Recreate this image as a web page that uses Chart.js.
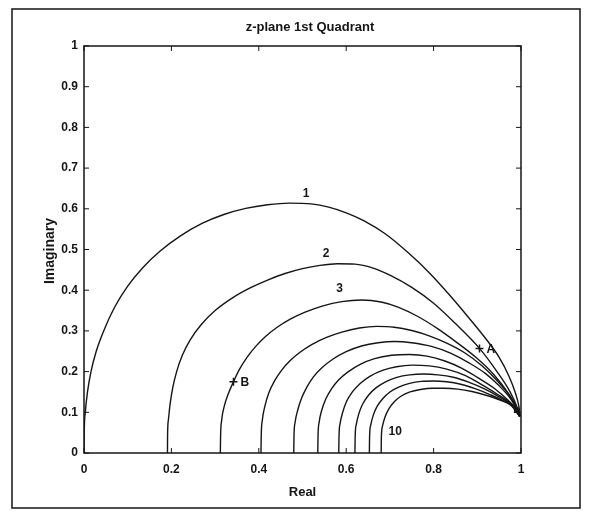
<!DOCTYPE html>
<html lang="en">
<head>
    <meta charset="UTF-8">
    <title>z-plane 1st Quadrant</title>
    <script src="https://cdn.jsdelivr.net/npm/chart.js"></script>
    <style>
        body { margin: 0; background: #fff; }
        #wrap { width: 593px; height: 514px; }
    </style>
</head>
<body>
    <div id="wrap"><canvas id="zChart" width="593" height="514"></canvas></div>

    <script>
        // contour points [real, imaginary], outermost (1) to innermost (10)
        const c1 = [[0,0],[0.0005,0.05],[0.003,0.1],[0.008,0.15],[0.016,0.2],[0.028,0.25],[0.045,0.3],[0.07,0.358],[0.1,0.41],[0.135,0.456],[0.175,0.497],[0.22,0.533],[0.27,0.564],[0.32,0.586],[0.37,0.601],[0.42,0.61],[0.47,0.614],[0.52,0.612],[0.56,0.604],[0.6,0.59],[0.64,0.571],[0.69,0.538],[0.744,0.49],[0.79,0.443],[0.835,0.39],[0.88,0.333],[0.92,0.28],[0.95,0.235],[0.972,0.19],[0.987,0.148],[0.995,0.115],[0.998,0.09]];
        const c2 = [[0.191,0],[0.1912,0.04],[0.193,0.08],[0.197,0.12],[0.203,0.16],[0.212,0.2],[0.225,0.24],[0.243,0.278],[0.268,0.315],[0.3,0.35],[0.338,0.38],[0.379,0.405],[0.42,0.425],[0.46,0.441],[0.5,0.453],[0.54,0.461],[0.58,0.465],[0.62,0.464],[0.66,0.455],[0.7,0.437],[0.75,0.407],[0.8,0.368],[0.85,0.318],[0.905,0.257],[0.945,0.2],[0.975,0.15],[0.992,0.11],[0.998,0.09]];
        const c3 = [[0.312,0],[0.3125,0.04],[0.315,0.08],[0.321,0.115],[0.33,0.145],[0.342,0.175],[0.356,0.206],[0.373,0.235],[0.393,0.262],[0.416,0.287],[0.442,0.309],[0.472,0.329],[0.506,0.346],[0.545,0.361],[0.59,0.372],[0.635,0.376],[0.68,0.371],[0.72,0.358],[0.763,0.336],[0.81,0.305],[0.855,0.27],[0.9,0.232],[0.94,0.19],[0.972,0.145],[0.99,0.112],[0.997,0.09]];
        const c4 = [[0.405,0],[0.4055,0.04],[0.408,0.08],[0.414,0.115],[0.423,0.148],[0.436,0.177],[0.452,0.203],[0.472,0.227],[0.495,0.248],[0.522,0.267],[0.555,0.284],[0.59,0.297],[0.63,0.307],[0.67,0.311],[0.71,0.309],[0.75,0.301],[0.79,0.288],[0.83,0.27],[0.87,0.247],[0.91,0.215],[0.945,0.178],[0.975,0.138],[0.997,0.09]];
        const c5 = [[0.48,0],[0.4805,0.04],[0.483,0.075],[0.489,0.105],[0.498,0.135],[0.51,0.162],[0.525,0.187],[0.545,0.21],[0.57,0.231],[0.6,0.249],[0.635,0.263],[0.673,0.271],[0.71,0.274],[0.75,0.271],[0.795,0.262],[0.84,0.245],[0.88,0.222],[0.919,0.195],[0.95,0.165],[0.975,0.135],[0.99,0.11],[0.997,0.09]];
        const c6 = [[0.535,0],[0.5355,0.04],[0.538,0.075],[0.544,0.105],[0.553,0.132],[0.566,0.157],[0.583,0.18],[0.605,0.2],[0.632,0.218],[0.665,0.232],[0.704,0.24],[0.745,0.242],[0.785,0.238],[0.826,0.226],[0.865,0.208],[0.9,0.186],[0.94,0.158],[0.97,0.13],[0.99,0.107],[0.997,0.09]];
        const c7 = [[0.583,0],[0.5835,0.04],[0.586,0.072],[0.592,0.1],[0.601,0.127],[0.614,0.15],[0.632,0.171],[0.655,0.189],[0.683,0.203],[0.715,0.212],[0.751,0.216],[0.79,0.214],[0.83,0.206],[0.873,0.19],[0.91,0.168],[0.945,0.145],[0.975,0.122],[0.997,0.09]];
        const c8 = [[0.62,0],[0.6205,0.04],[0.623,0.07],[0.629,0.097],[0.638,0.121],[0.651,0.142],[0.668,0.16],[0.69,0.175],[0.716,0.186],[0.745,0.192],[0.777,0.194],[0.81,0.192],[0.845,0.186],[0.88,0.174],[0.915,0.158],[0.95,0.138],[0.978,0.118],[0.997,0.09]];
        const c9 = [[0.653,0],[0.6535,0.04],[0.656,0.068],[0.662,0.093],[0.671,0.115],[0.684,0.134],[0.7,0.15],[0.72,0.162],[0.745,0.171],[0.772,0.176],[0.8,0.177],[0.83,0.175],[0.862,0.169],[0.895,0.158],[0.93,0.143],[0.96,0.128],[0.983,0.113],[0.997,0.09]];
        const c10 = [[0.68,0],[0.6805,0.04],[0.683,0.066],[0.689,0.089],[0.698,0.109],[0.71,0.126],[0.726,0.14],[0.746,0.15],[0.77,0.156],[0.797,0.159],[0.825,0.159],[0.855,0.157],[0.888,0.151],[0.92,0.142],[0.952,0.13],[0.978,0.116],[0.997,0.09]];

        const contours = [c1, c2, c3, c4, c5, c6, c7, c8, c9, c10];

        // marked points and the text next to them
        const markNames = ['A', 'B'];
        const markPts = [[0.905, 0.257], [0.342, 0.175]];
        const endMark = [[0.99, 0.105]];

        // contour numbers written on the plot
        const curveLabels = ['1', '2', '3', '10'];
        const curveLabelPts = [[0.508, 0.636], [0.554, 0.49], [0.585, 0.404], [0.712, 0.052]];

        const xTicks = [0, 0.2, 0.4, 0.6, 0.8, 1];
        const xTickLabels = ['0', '0.2', '0.4', '0.6', '0.8', '1'];
        const yTicks = [0, 0.1, 0.2, 0.3, 0.4, 0.5, 0.6, 0.7, 0.8, 0.9, 1];
        const yTickLabels = ['0', '0.1', '0.2', '0.3', '0.4', '0.5', '0.6', '0.7', '0.8', '0.9', '1'];

        const ink = '#151515';
        const fontFam = 'Arial, "Liberation Sans", sans-serif';

        const toXY = pts => pts.map(p => ({ x: p[0], y: p[1] }));

        const datasets = contours.map(c => ({
            data: toXY(c),
            showLine: true,
            borderColor: ink,
            borderWidth: 1.4,
            pointRadius: 0,
            cubicInterpolationMode: 'monotone'
        }));
        datasets.push({
            data: toXY(markPts),
            showLine: false,
            pointStyle: 'cross',
            pointRadius: 4,
            borderColor: ink,
            borderWidth: 1.5
        });
        datasets.push({
            data: toXY(endMark),
            showLine: false,
            pointStyle: 'rect',
            pointRadius: 3,
            borderColor: ink,
            backgroundColor: 'rgba(0,0,0,0)',
            borderWidth: 1.2
        });

        // frame, box, inward ticks and all the text drawn on top
        const matlabLook = {
            id: 'matlabLook',
            afterDraw(chart) {
                const ctx = chart.ctx;
                const a = chart.chartArea;
                const xs = chart.scales.x, ys = chart.scales.y;
                ctx.save();
                ctx.strokeStyle = ink;
                ctx.fillStyle = ink;

                // outer figure frame
                ctx.lineWidth = 1.5;
                ctx.strokeRect(12, 9, 568, 499);

                // axes box
                ctx.lineWidth = 1.5;
                ctx.strokeRect(a.left, a.top, a.right - a.left, a.bottom - a.top);

                // inward ticks
                ctx.lineWidth = 1;
                ctx.beginPath();
                xTicks.forEach(v => {
                    const px = xs.getPixelForValue(v);
                    ctx.moveTo(px, a.bottom); ctx.lineTo(px, a.bottom - 5);
                    ctx.moveTo(px, a.top); ctx.lineTo(px, a.top + 5);
                });
                yTicks.forEach(v => {
                    const py = ys.getPixelForValue(v);
                    ctx.moveTo(a.left, py); ctx.lineTo(a.left + 5, py);
                    ctx.moveTo(a.right, py); ctx.lineTo(a.right - 5, py);
                });
                ctx.stroke();

                // title and axis names
                ctx.textAlign = 'center';
                ctx.textBaseline = 'middle';
                ctx.font = 'bold 13px ' + fontFam;
                ctx.fillText('z-plane 1st Quadrant', 310, 27);
                ctx.fillText('Real', (a.left + a.right) / 2, 492);
                ctx.save();
                ctx.translate(50, 251);
                ctx.rotate(-Math.PI / 2);
                ctx.font = 'bold 14px ' + fontFam;
                ctx.fillText('Imaginary', 0, 0);
                ctx.restore();

                // contour numbers
                ctx.font = 'bold 12px ' + fontFam;
                curveLabels.forEach((t, i) => {
                    ctx.fillText(t, xs.getPixelForValue(curveLabelPts[i][0]), ys.getPixelForValue(curveLabelPts[i][1]));
                });

                // point names
                ctx.textAlign = 'left';
                markNames.forEach((t, i) => {
                    ctx.fillText(t, xs.getPixelForValue(markPts[i][0]) + 7, ys.getPixelForValue(markPts[i][1]) + 1);
                });
                ctx.restore();
            }
        };

        new Chart(document.getElementById('zChart'), {
            type: 'scatter',
            data: { datasets: datasets },
            options: {
                responsive: false,
                animation: false,
                layout: { padding: { left: 0, right: 72, top: 46, bottom: 0 } },
                plugins: { legend: { display: false }, tooltip: { enabled: false } },
                scales: {
                    x: {
                        type: 'linear',
                        min: 0, max: 1,
                        afterFit: s => { s.height = 61; },
                        afterBuildTicks: s => { s.ticks = xTicks.map(v => ({ value: v })); },
                        grid: { display: false, drawTicks: false },
                        border: { display: false },
                        ticks: {
                            padding: 9,
                            color: ink,
                            font: { family: fontFam, size: 12, weight: 'bold' },
                            callback: (v) => xTickLabels[xTicks.indexOf(v)]
                        }
                    },
                    y: {
                        type: 'linear',
                        min: 0, max: 1,
                        afterFit: s => { s.width = 84; },
                        afterBuildTicks: s => { s.ticks = yTicks.map(v => ({ value: v })); },
                        grid: { display: false, drawTicks: false },
                        border: { display: false },
                        ticks: {
                            padding: 6,
                            color: ink,
                            font: { family: fontFam, size: 12, weight: 'bold' },
                            callback: (v) => yTickLabels[yTicks.indexOf(v)]
                        }
                    }
                }
            },
            plugins: [matlabLook]
        });
    </script>
</body>
</html>
